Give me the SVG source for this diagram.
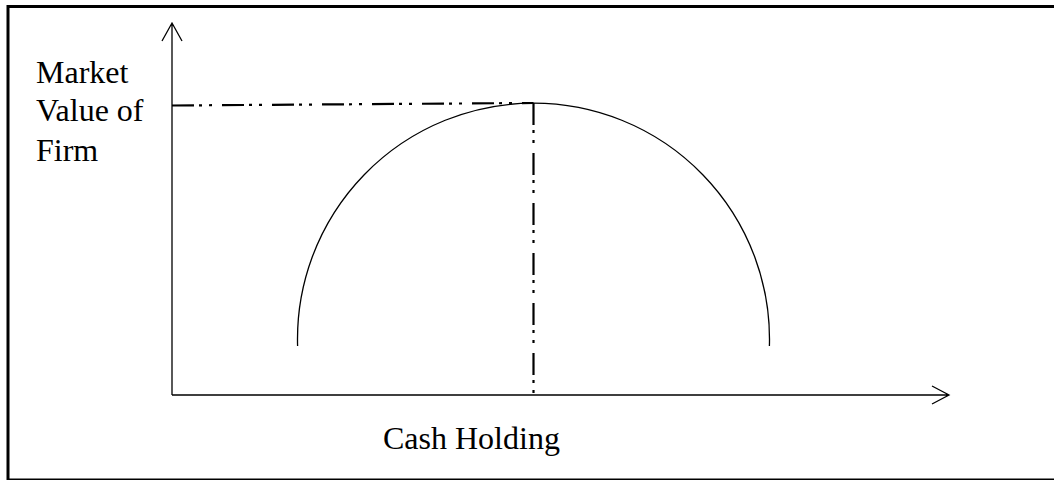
<svg xmlns="http://www.w3.org/2000/svg" width="1054" height="480" viewBox="0 0 1054 480">
<style>
.t{font-family:'Liberation Serif','Tinos','DejaVu Serif',serif;font-size:32px;fill:#000}
.ax{fill:none;stroke:#000;stroke-width:1.3}
.dd{fill:none;stroke:#000;stroke-width:2.2;stroke-dasharray:22 5 3 7 3 10}
</style>
<rect x="0" y="0" width="1054" height="480" fill="#fff"/>
<rect id="frame" x="8" y="6.5" width="1060" height="473.5" fill="none" stroke="#000" stroke-width="3"/>
<g id="connectors">
<path class="ax" d="M172 395 V23 M162 41 L172 23 L182 41"/>
<path class="ax" d="M172 395 H949 M932 386 L949 395 L932 404"/>
<path class="dd" d="M172 105.5 L533.5 103"/>
<path class="dd" d="M533.5 103 V395"/>
<path id="curve" fill="none" stroke="#000" stroke-width="1.3" d="M297.6 346 A236 236 0 1 1 769.4 346"/>
</g>
<g id="labels">
<text class="t" x="36" y="83" font-family="Liberation Serif">Market</text>
<text class="t" x="36" y="121" font-family="Liberation Serif">Value of</text>
<text class="t" x="36" y="161" font-family="Liberation Serif">Firm</text>
<text class="t" x="383" y="449" font-family="Liberation Serif">Cash Holding</text>
</g>
</svg>
